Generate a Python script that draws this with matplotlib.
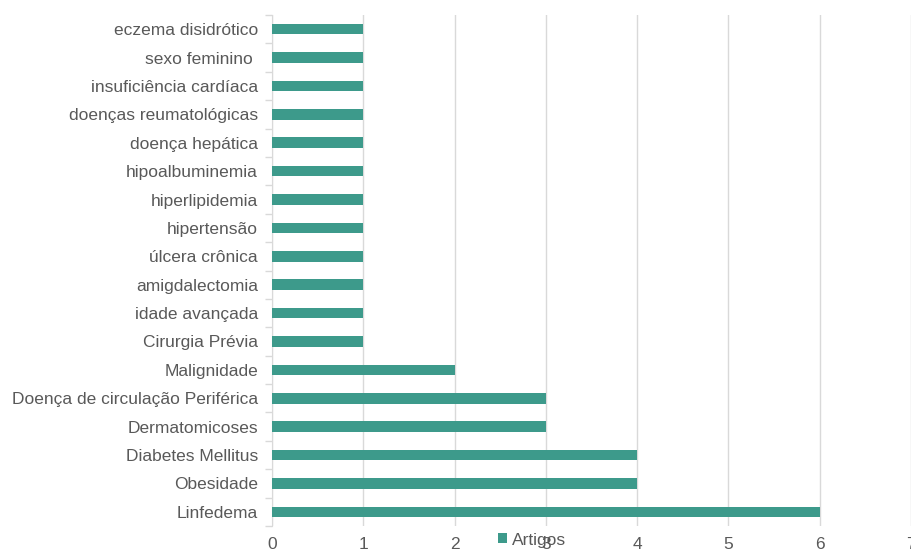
import matplotlib
matplotlib.use("Agg")
import matplotlib.pyplot as plt
import numpy as np

categories = ["Linfedema", "Obesidade", "Diabetes Mellitus", "Dermatomicoses",
              "Doença de circulação Periférica", "Malignidade", "Cirurgia Prévia",
              "idade avançada", "amigdalectomia", "úlcera crônica", "hipertensão",
              "hiperlipidemia", "hipoalbuminemia", "doença hepática",
              "doenças reumatológicas", "insuficiência cardíaca", "sexo feminino ",
              "eczema disidrótico"]
values = [6, 4, 4, 3, 3, 2, 1, 1, 1, 1, 1, 1, 1, 1, 1, 1, 1, 1]
xticks = [0, 1, 2, 3, 4, 5, 6, 7]
series_name = "Artigos"

plt.rcParams['font.family'] = ['Liberation Sans', 'DejaVu Sans']

fig = plt.figure(figsize=(9.12, 5.51), dpi=100)
ax = fig.add_axes([272/912, 1 - 526/551, (911 - 272)/912, (526 - 15)/551])

y = np.arange(len(categories))
ax.barh(y, values, height=0.37, color="#3D9A8B", zorder=3, label=series_name)
ax.set_ylim(-0.5, len(categories) - 0.5)
ax.set_xlim(0, 7)
ax.set_xticks(xticks)
ax.set_xticklabels([str(t) for t in xticks], fontsize=12.5, color="#595959")
ax.set_yticks(y)
ax.set_yticklabels(categories, fontsize=12.5, color="#595959")
ax.set_yticks(np.arange(-0.5, len(categories), 1), minor=True)
ax.tick_params(axis='y', which='major', length=0, pad=10)
ax.tick_params(axis='y', which='minor', length=5, color="#D9D9D9", width=1)
ax.tick_params(axis='x', length=0, pad=8)
ax.grid(axis='x', color="#D9D9D9", linewidth=1, zorder=0)
for s in ['top', 'right', 'bottom']:
    ax.spines[s].set_visible(False)
ax.spines['left'].set_color("#D9D9D9")

fig.legend(loc='center', bbox_to_anchor=(532/912, 1 - 540/551), frameon=False,
           fontsize=12.5, handlelength=0.5, handleheight=0.5, handletextpad=0.3,
           labelcolor="#595959")

fig.savefig("out.png", dpi=100)
